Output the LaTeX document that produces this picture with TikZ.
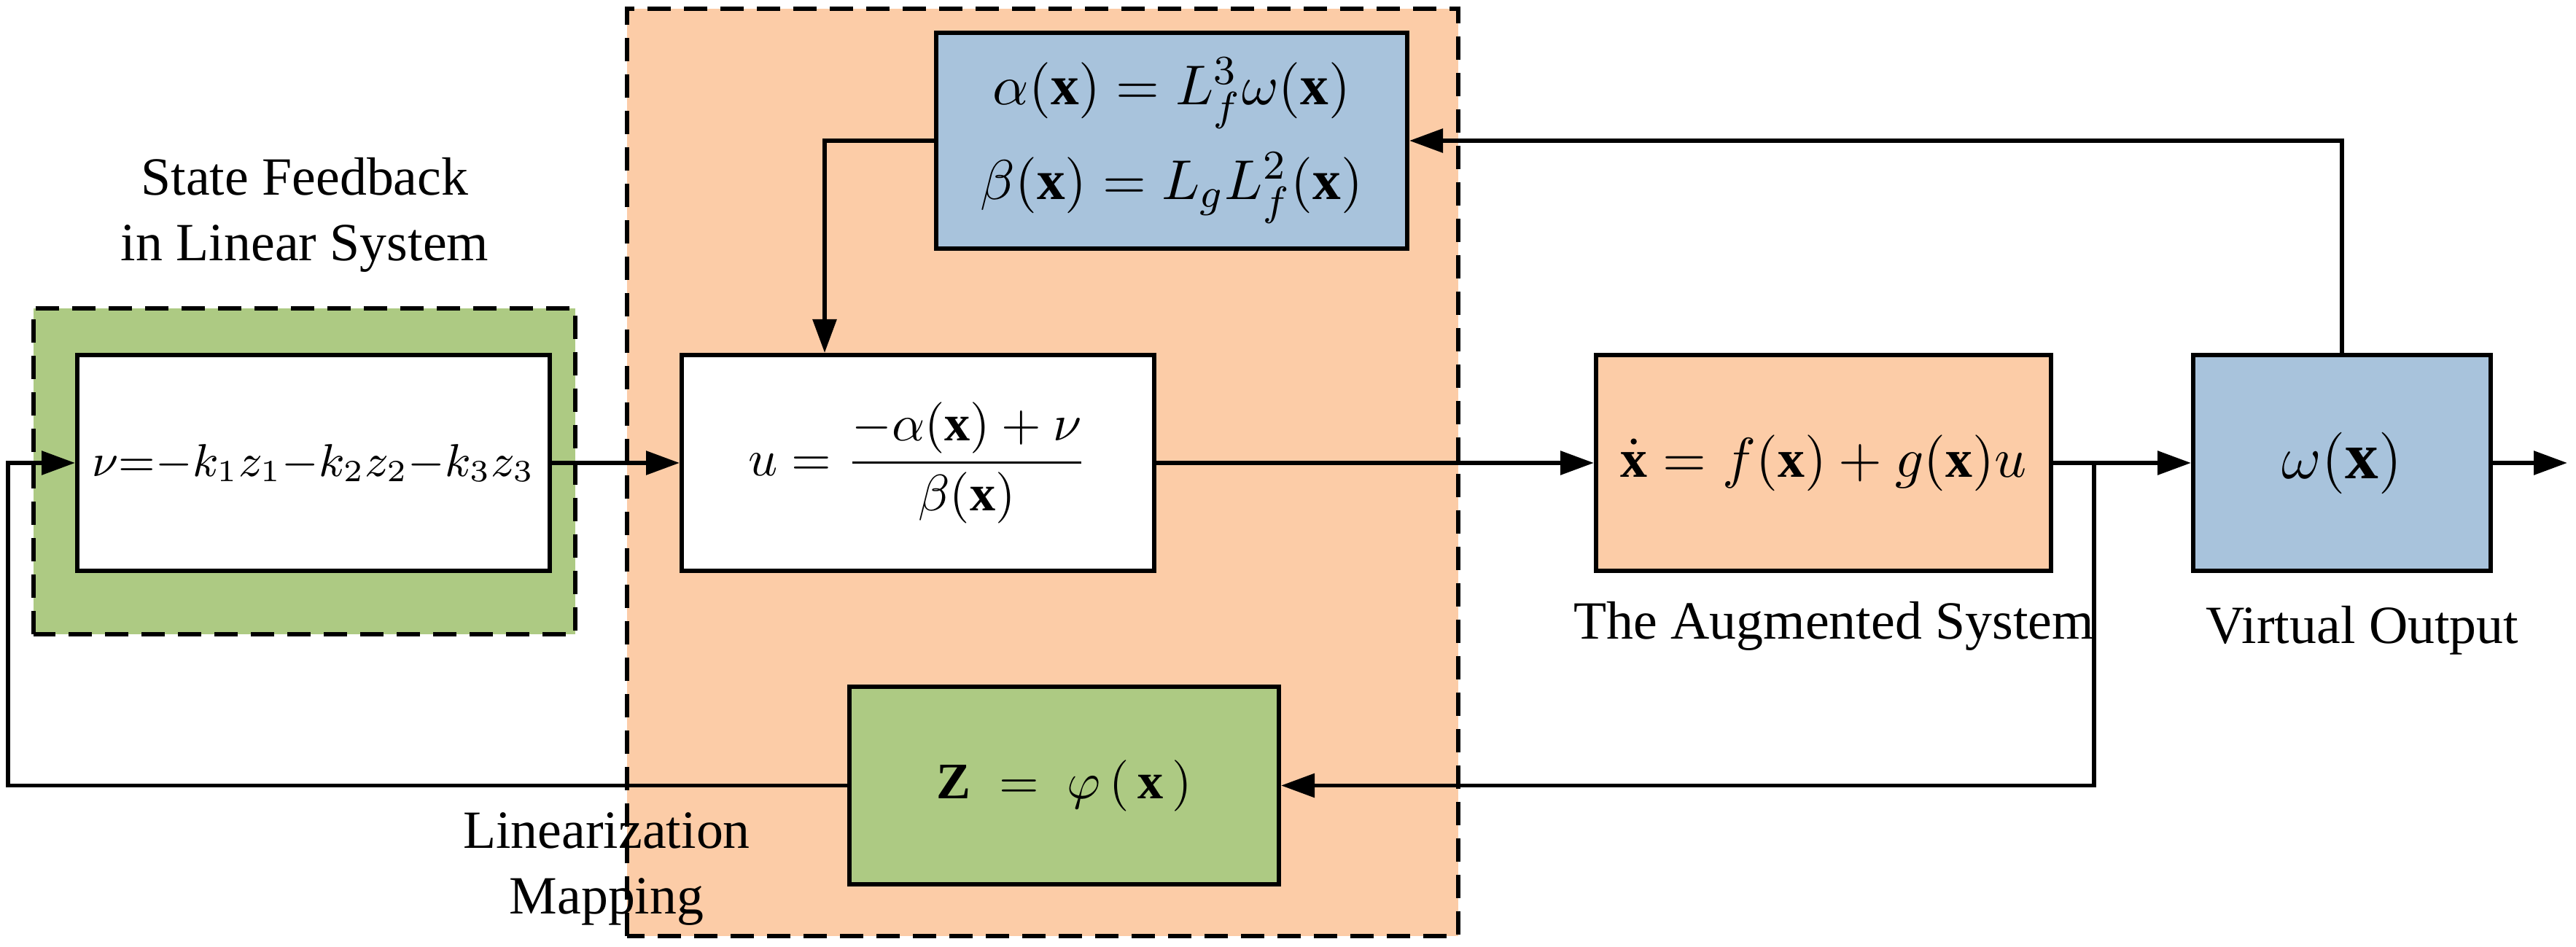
\documentclass[tikz,border=0pt]{standalone}
\usepackage{fontspec}
\setmainfont{Liberation Serif}
\usetikzlibrary{arrows.meta}
\definecolor{orangefill}{RGB}{252,204,167}
\definecolor{greenfill}{RGB}{173,202,131}
\definecolor{bluefill}{RGB}{168,195,220}
\begin{document}
\begin{tikzpicture}[
    block/.style={draw, line width=0.85pt, minimum height=1.48cm, inner sep=0pt, font=\fontsize{11}{13}\selectfont},
    region/.style={draw, line width=0.85pt, dash pattern=on 1.6mm off 0.9mm},
    sig/.style={line width=0.85pt, -{Triangle[length=2.3mm,width=1.6mm]}},
    note/.style={font=\fontsize{10.5}{12.8}\selectfont, align=center}]
    % Bounding Rectangle
    \useasboundingbox (0,0) rectangle (17.665,6.495);
    % Regions
    \draw[region, fill=orangefill] (4.30,0.075) rectangle (10.00,6.435);
    \draw[region, fill=greenfill] (0.23,2.145) rectangle (3.945,4.38);
    % Blocks
    \node[block, fill=white, minimum width=3.24cm, font=\fontsize{9}{11}\selectfont] (fb) at (2.15,3.32) {$\nu{=}{-}k_1z_1{-}k_2z_2{-}k_3z_3$};
    \node[block, fill=white, minimum width=3.24cm, font=\fontsize{10}{12}\selectfont] (ctrl) at (6.295,3.32) {$u=\displaystyle\frac{-\alpha(\mathbf{x})+\nu}{\beta(\mathbf{x})}$};
    \node[block, fill=orangefill, minimum width=3.12cm, font=\fontsize{10.5}{12}\selectfont] (sys) at (12.505,3.32) {$\dot{\mathbf{x}}=f(\mathbf{x})+g(\mathbf{x})u$};
    \node[block, fill=bluefill, minimum width=2.04cm, font=\fontsize{13}{15}\selectfont] (out) at (16.06,3.32) {$\omega(\mathbf{x})$};
    \node[block, fill=bluefill, minimum width=3.23cm, align=center, font=\fontsize{11}{18.5}\selectfont] (gain) at (8.035,5.53) {$\alpha(\mathbf{x})=L_f^3\omega(\mathbf{x})$\\$\beta(\mathbf{x})=L_gL_f^2(\mathbf{x})$};
    \node[block, fill=greenfill, minimum width=2.945cm, minimum height=1.355cm, font=\fontsize{10}{12}\selectfont] (map) at (7.2975,1.1075) {$\mathbf{Z}\;=\;\varphi\,(\,\mathbf{x}\,)$};
    % Labels
    \node[note] (fblabel) at (2.09,5.02) {State Feedback\\in Linear System};
    \node[note, anchor=base] (syslabel) at (12.575,2.11) {The Augmented System};
    \node[note, anchor=base] (outlabel) at (16.2,2.08) {Virtual Output};
    \node[note] (maplabel) at (4.16,0.535) {Linearization\\Mapping};
    % Connectors
    \coordinate (branch) at (14.36,3.32);
    \coordinate (end) at (17.605,3.32);
    \coordinate (gainturn) at (5.655,5.53);
    \coordinate (back) at (0.055,3.32);
    \draw[sig] (fb) -- (ctrl);
    \draw[sig] (ctrl) -- (sys);
    \draw[sig] (sys) -- (out);
    \draw[sig] (out) -- (end);
    \draw[sig] (out.north) |- (gain.east);
    \draw[sig] (gain.west) -- (gainturn) -- (gainturn |- ctrl.north);
    \draw[sig] (branch) |- (map.east);
    \draw[sig] (map.west) -| (back) -- (fb.west);
\end{tikzpicture}
\end{document}
